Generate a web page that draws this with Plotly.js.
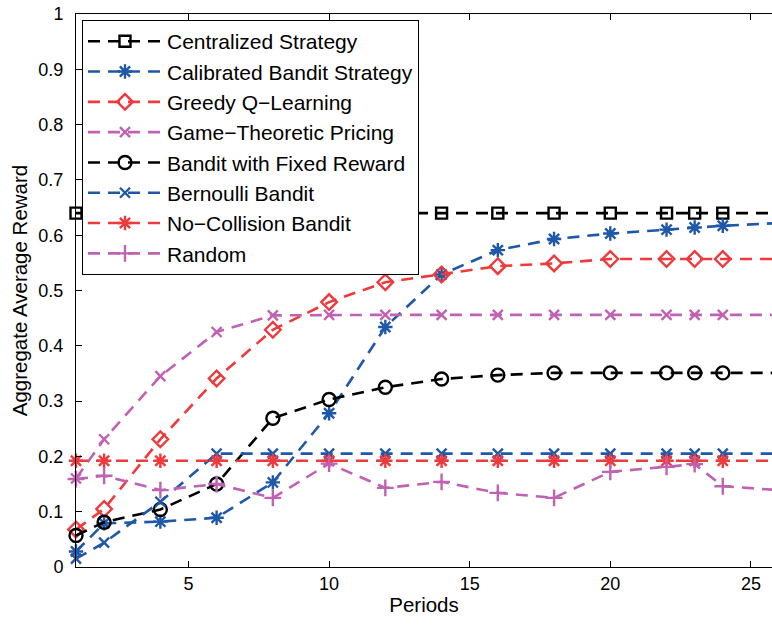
<!DOCTYPE html>
<html>
<head>
<meta charset="utf-8">
<script src="https://cdn.plot.ly/plotly-3.0.1.min.js"></script>
<style>
  html, body { margin: 0; padding: 0; background: #ffffff; }
  #chart { width: 772px; height: 625px; }
</style>
</head>
<body>
<div id="chart"></div>
<script>
// Periods at which each strategy was evaluated (last one lies past the visible range)
const periods = [1, 2, 4, 6, 8, 10, 12, 14, 16, 18, 20, 22, 23, 24, 26];

// Aggregate average reward per strategy
const centralized   = [0.640, 0.640, 0.640, 0.640, 0.640, 0.640, 0.640, 0.640, 0.640, 0.640, 0.640, 0.640, 0.640, 0.640, 0.640];
const calibrated    = [0.028, 0.079, 0.082, 0.089, 0.153, 0.278, 0.434, 0.529, 0.573, 0.593, 0.603, 0.610, 0.614, 0.617, 0.622];
const greedyQ       = [0.068, 0.105, 0.231, 0.341, 0.429, 0.479, 0.515, 0.529, 0.544, 0.549, 0.557, 0.557, 0.557, 0.557, 0.557];
const gameTheoretic = [0.160, 0.231, 0.345, 0.425, 0.455, 0.456, 0.456, 0.456, 0.456, 0.456, 0.456, 0.456, 0.456, 0.456, 0.456];
const fixedReward   = [0.057, 0.081, 0.104, 0.150, 0.269, 0.303, 0.325, 0.340, 0.347, 0.351, 0.351, 0.351, 0.351, 0.351, 0.351];
const bernoulli     = [0.015, 0.044, 0.118, 0.205, 0.205, 0.205, 0.205, 0.205, 0.205, 0.205, 0.205, 0.205, 0.205, 0.205, 0.205];
const noCollision   = [0.192, 0.192, 0.192, 0.192, 0.192, 0.192, 0.192, 0.192, 0.192, 0.192, 0.192, 0.192, 0.192, 0.192, 0.192];
const randomPick    = [0.159, 0.165, 0.139, 0.150, 0.125, 0.187, 0.143, 0.154, 0.134, 0.125, 0.172, 0.181, 0.186, 0.146, 0.139];

const seriesNames = [
  'Centralized Strategy',
  'Calibrated Bandit Strategy',
  'Greedy Q\u2212Learning',
  'Game\u2212Theoretic Pricing',
  'Bandit with Fixed Reward',
  'Bernoulli Bandit',
  'No\u2212Collision Bandit',
  'Random'
];
const xTicks = [5, 10, 15, 20, 25];

const BLACK = '#000000';
const BLUE = '#1f58a8';
const RED = '#ee3a3c';
const MAGENTA = '#c062b2';

const styles = [
  { y: centralized,   color: BLACK,   symbol: 'square-open',       size: 11 },
  { y: calibrated,    color: BLUE,    symbol: 'asterisk-open',     size: 12 },
  { y: greedyQ,       color: RED,     symbol: 'diamond-open',      size: 12 },
  { y: gameTheoretic, color: MAGENTA, symbol: 'x-thin-open',       size: 10 },
  { y: fixedReward,   color: BLACK,   symbol: 'circle-open',       size: 13 },
  { y: bernoulli,     color: BLUE,    symbol: 'x-thin-open',       size: 10 },
  { y: noCollision,   color: RED,     symbol: 'asterisk-open',     size: 12 },
  { y: randomPick,    color: MAGENTA, symbol: 'cross-thin-open',   size: 12 }
];

const traces = styles.map((s, i) => ({
  type: 'scatter',
  mode: 'lines+markers',
  name: seriesNames[i],
  x: periods,
  y: s.y,
  cliponaxis: false,
  line: { color: s.color, width: 2.6, dash: '12px,8px' },
  marker: { symbol: s.symbol, size: s.size, color: s.color,
            line: { color: s.color, width: 2.4 } }
}));

const font = 'Liberation Sans, Arial, Helvetica, sans-serif';

const layout = {
  width: 772,
  height: 625,
  margin: { l: 76, r: 0, t: 14, b: 58 },
  paper_bgcolor: '#ffffff',
  plot_bgcolor: '#ffffff',
  font: { family: font, size: 18, color: '#000000' },
  showlegend: true,
  legend: {
    x: 0.0086, y: 0.989, xanchor: 'left', yanchor: 'top',
    bgcolor: '#ffffff', bordercolor: '#000000', borderwidth: 1,
    font: { family: font, size: 21, color: '#000000' },
    itemwidth: 74,
    traceorder: 'normal'
  },
  xaxis: {
    range: [1, 25.75],
    tickvals: xTicks,
    ticktext: xTicks.map(String),
    ticks: 'inside', ticklen: 6, tickwidth: 1, tickcolor: '#000000',
    ticklabelstandoff: 0,
    showline: true, linecolor: '#000000', linewidth: 1,
    mirror: 'ticks',
    showgrid: false, zeroline: false,
    tickfont: { family: font, size: 18 },
    title: { text: 'Periods', font: { family: font, size: 20.5 }, standoff: 5 }
  },
  yaxis: {
    range: [0, 1],
    dtick: 0.1,
    tick0: 0,
    ticks: 'inside', ticklen: 6, tickwidth: 1, tickcolor: '#000000',
    ticklabelstandoff: 8,
    showline: true, linecolor: '#000000', linewidth: 1,
    showgrid: false, zeroline: false,
    tickfont: { family: font, size: 18 },
    title: { text: 'Aggregate Average Reward', font: { family: font, size: 20.5 }, standoff: 5 }
  }
};

Plotly.newPlot('chart', traces, layout, { displayModeBar: false, staticPlot: true });
</script>
</body>
</html>
